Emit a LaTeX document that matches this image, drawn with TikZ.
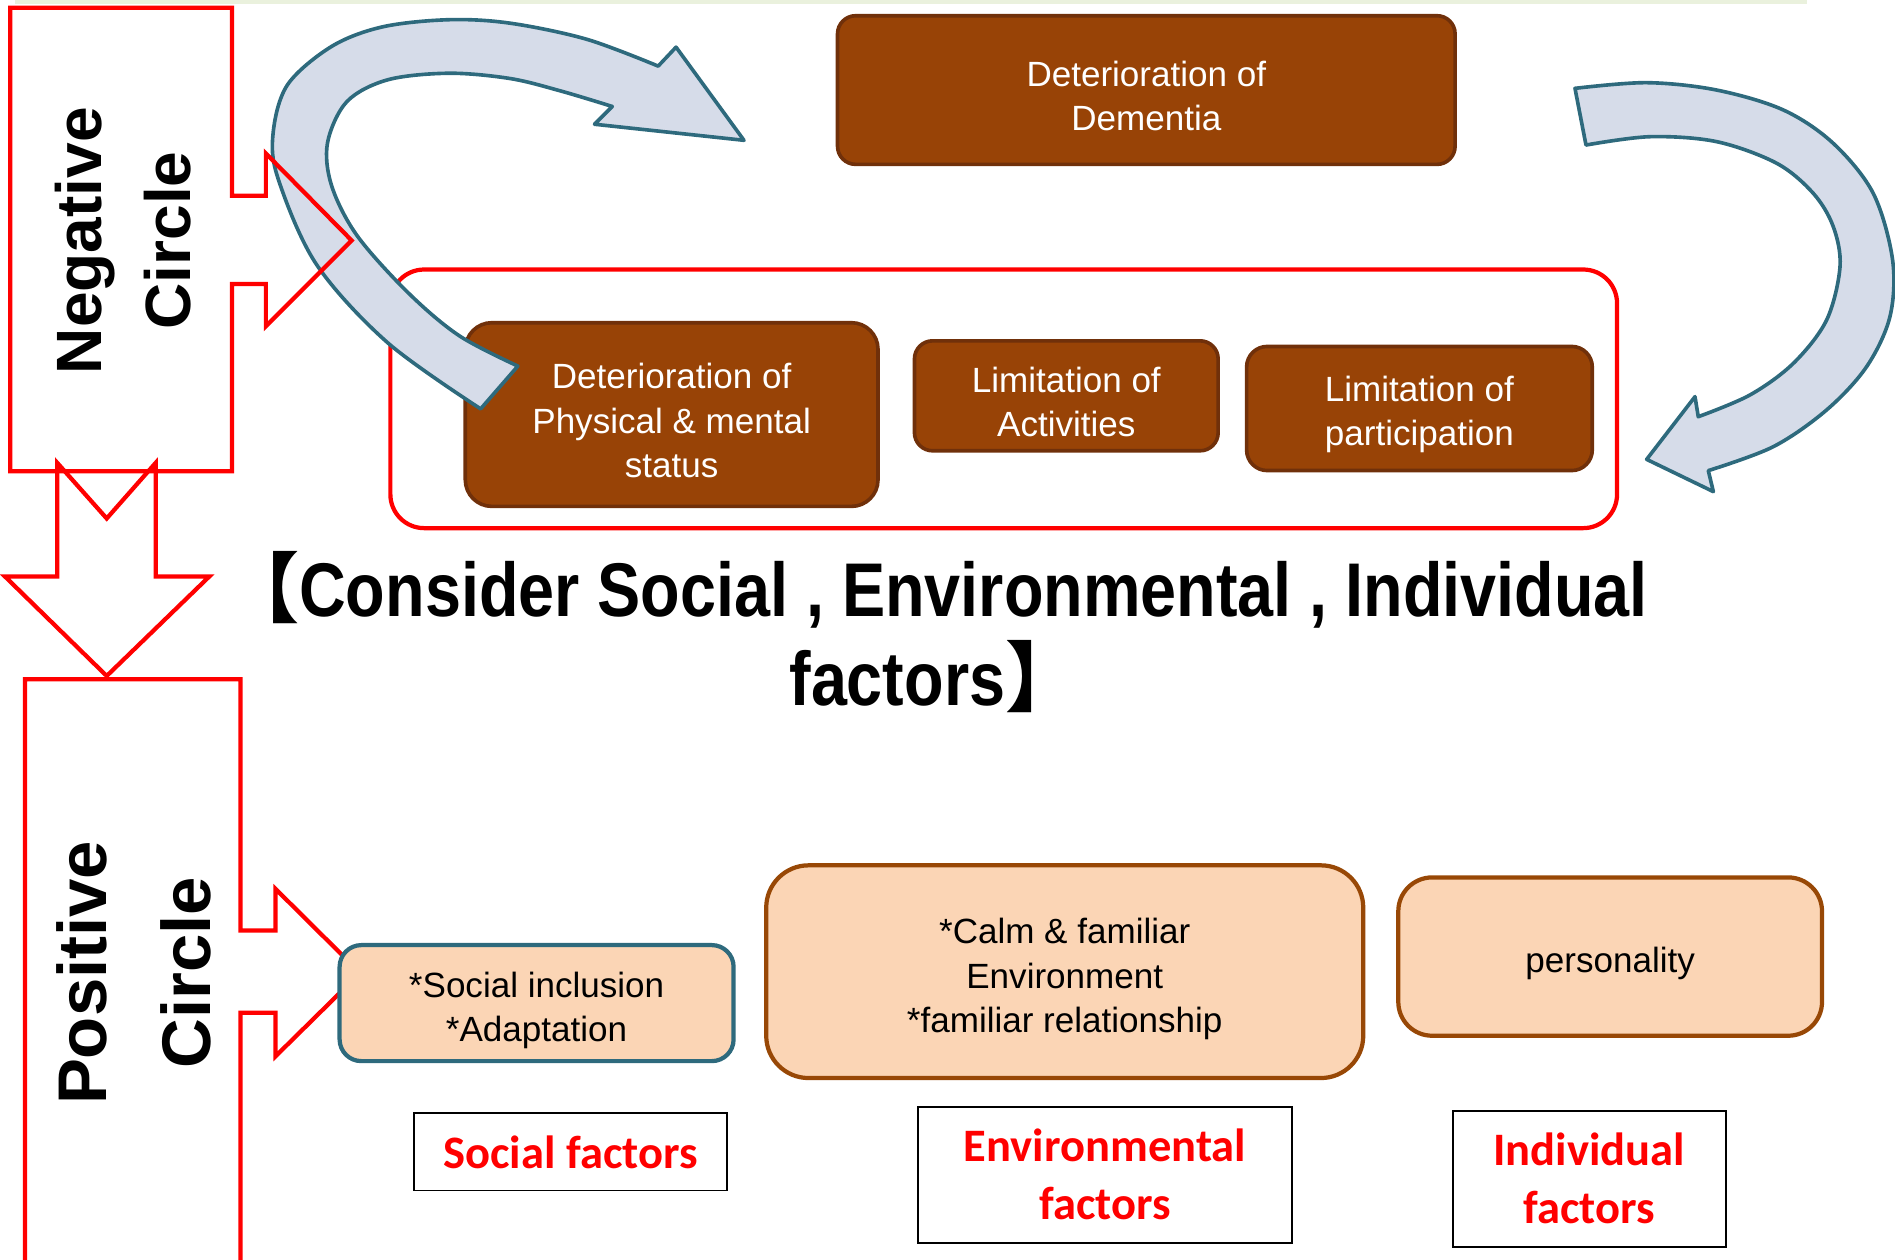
\documentclass[tikz,border=0pt]{standalone}
\usepackage{fontspec}
\setmainfont{Liberation Sans}
\newfontfamily\labelfont{Carlito}
\newfontfamily\titlefont[FakeStretch=0.85]{Liberation Sans}
\newfontfamily\cjkfont{Noto Sans CJK JP}
\definecolor{brownfill}{RGB}{152,67,6}
\definecolor{brownline}{RGB}{112,48,10}
\definecolor{peach}{RGB}{251,213,181}
\definecolor{peachline}{RGB}{152,72,6}
\definecolor{tealline}{RGB}{46,106,125}
\definecolor{arrowfill}{RGB}{214,220,233}
\definecolor{stripgreen}{RGB}{234,241,221}
\tikzset{
  brownbox/.style={draw=brownline, fill=brownfill, line width=3pt},
  browntext/.style={text=white, align=center, inner sep=0pt, yshift=-5pt, font=\fontsize{29}{37}\selectfont},
  peachbox/.style={draw=peachline, fill=peach, line width=3.5pt},
  peachtext/.style={align=center, inner sep=0pt, yshift=-6pt, font=\fontsize{29}{37}\selectfont},
  factorbox/.style={draw=black, line width=1.5pt},
  factortext/.style={text=red, align=center, inner sep=0pt, font=\labelfont\bfseries\fontsize{38.5}{48}\selectfont},
  redline/.style={draw=red, line width=3.5pt, line join=miter},
  bigarrow/.style={draw=tealline, fill=arrowfill, line width=3pt, line join=round},
}
\newcommand{\boxnode}[8]{\node[#1, minimum width=#6, minimum height=#7] (#3) at (#4,#5) {};
  \node[#2] (#3 text) at (#3.center) {#8};}

\begin{document}
\begin{tikzpicture}[x=1pt, y=-1pt]
        \useasboundingbox (0,0) rectangle (1568,1042);
        \fill[stripgreen] (12,0) rectangle (1495,3.5);

        % negative circle
        \node[redline, rounded corners=28, minimum width=1015, minimum height=214] (frame) at (830.5,330) {};
        \boxnode{brownbox, rounded corners=15}{browntext}{dementia}{948.5}{74.5}{511}{123}{Deterioration of\\Dementia}
        \boxnode{brownbox, rounded corners=22}{browntext}{physical}{555.75}{343}{341.5}{152}{Deterioration of\\Physical \& mental\\status}
        \boxnode{brownbox, rounded corners=15}{browntext}{activity}{882.3}{327.5}{251.3}{91}{Limitation of\\Activities}
        \boxnode{brownbox, rounded corners=17}{browntext}{particip}{1174.5}{338}{286}{102.7}{Limitation of\\participation}

        \draw[bigarrow] plot[smooth, tension=0.55] coordinates {(397.7,338.3) (320.9,283.7) (261.8,218.7) (230.1,147.8) (226,110) (238,70) (274.4,38.4) (316.6,22.2) (371.5,16.3) (422.2,19.2) (485.5,32.5) (544.6,54.7)}
            -- (559.4,39) -- (615.6,116.1) -- (491.9,102.8)
            -- plot[smooth, tension=0.55] coordinates {(506.6,88.1) (464.4,75.4) (422.2,65) (371.5,60.6) (320.9,66) (287.1,84) (271,118.2) (274.4,153.7) (295.5,195) (337.8,242.3) (380,277.8) (428.5,302.9)} -- cycle;
        \draw[bigarrow] plot[smooth, tension=0.55] coordinates {(1303.2,73.1) (1362.5,68.4) (1420.4,74.5) (1475.6,91) (1516.9,118.6) (1550,160) (1566,215.1) (1563.8,262) (1544.5,303.4) (1511.4,339.2) (1467.3,369.6) (1413.5,389.4)}
            -- (1417.7,406.8) -- (1362.5,380.1) -- (1402.5,328.2)
            -- plot[smooth, tension=0.55] coordinates {(1405.2,344.8) (1448,326.8) (1483.9,300.6) (1511.4,264.8) (1522.5,220.6) (1516.9,187.5) (1500.4,160) (1470.1,135.1) (1420.4,117.2) (1365.3,113.1) (1312.3,120)} -- cycle;

        \draw[redline] (8.5,6.5) -- (192,6.5) -- (192,162) -- (220,162) -- (220,127) -- (291,199)
            -- (220,270) -- (220,235) -- (192,235) -- (192,390) -- (8.5,390) -- cycle;
        \node[rotate=90, align=center, font=\bfseries\fontsize{53}{74}\selectfont] (neg) at (102,199) {Negative\\Circle};

        % down arrow
        \draw[redline] (47.4,383) -- (88.3,429) -- (128.8,383) -- (128.8,477) -- (173.2,477)
            -- (88.3,559.3) -- (4.1,477) -- (47.4,477) -- cycle;

        % positive circle
        \draw[redline] (20.7,1070) -- (20.7,562) -- (199,562) -- (199,770) -- (228,770) -- (228,735.5) -- (298,805)
            -- (228,874) -- (228,838) -- (199,838) -- (199,1070);
        \node[rotate=90, align=center, font=\bfseries\fontsize{57}{86}\selectfont] (pos) at (111,805) {Positive\\Circle};

        \node[align=center, font=\titlefont\bfseries\fontsize{63}{73}\selectfont] (title) at (774,523)
            {{\cjkfont\bfseries 【}Consider Social , Environmental , Individual\\factors{\cjkfont\bfseries 】}};

        % factors
        \boxnode{peachbox, draw=tealline, rounded corners=18}{peachtext}{social}{444}{830}{326}{96}{*Social inclusion\\{}*Adaptation}
        \boxnode{peachbox, rounded corners=35}{peachtext}{environ}{881}{804}{494}{176}{*Calm \& familiar\\Environment\\{}*familiar relationship}
        \boxnode{peachbox, rounded corners=28}{peachtext}{person}{1332.3}{791.5}{350.6}{131}{personality}

        \boxnode{factorbox}{factortext}{sociallab}{472.2}{953.1}{259}{64}{Social factors}
        \boxnode{factorbox}{factortext}{environlab}{914.3}{972}{309.3}{112.5}{Environmental\\factors}
        \boxnode{factorbox}{factortext}{personlab}{1315}{975.3}{226}{112.5}{Individual\\factors}
\end{tikzpicture}
\end{document}
